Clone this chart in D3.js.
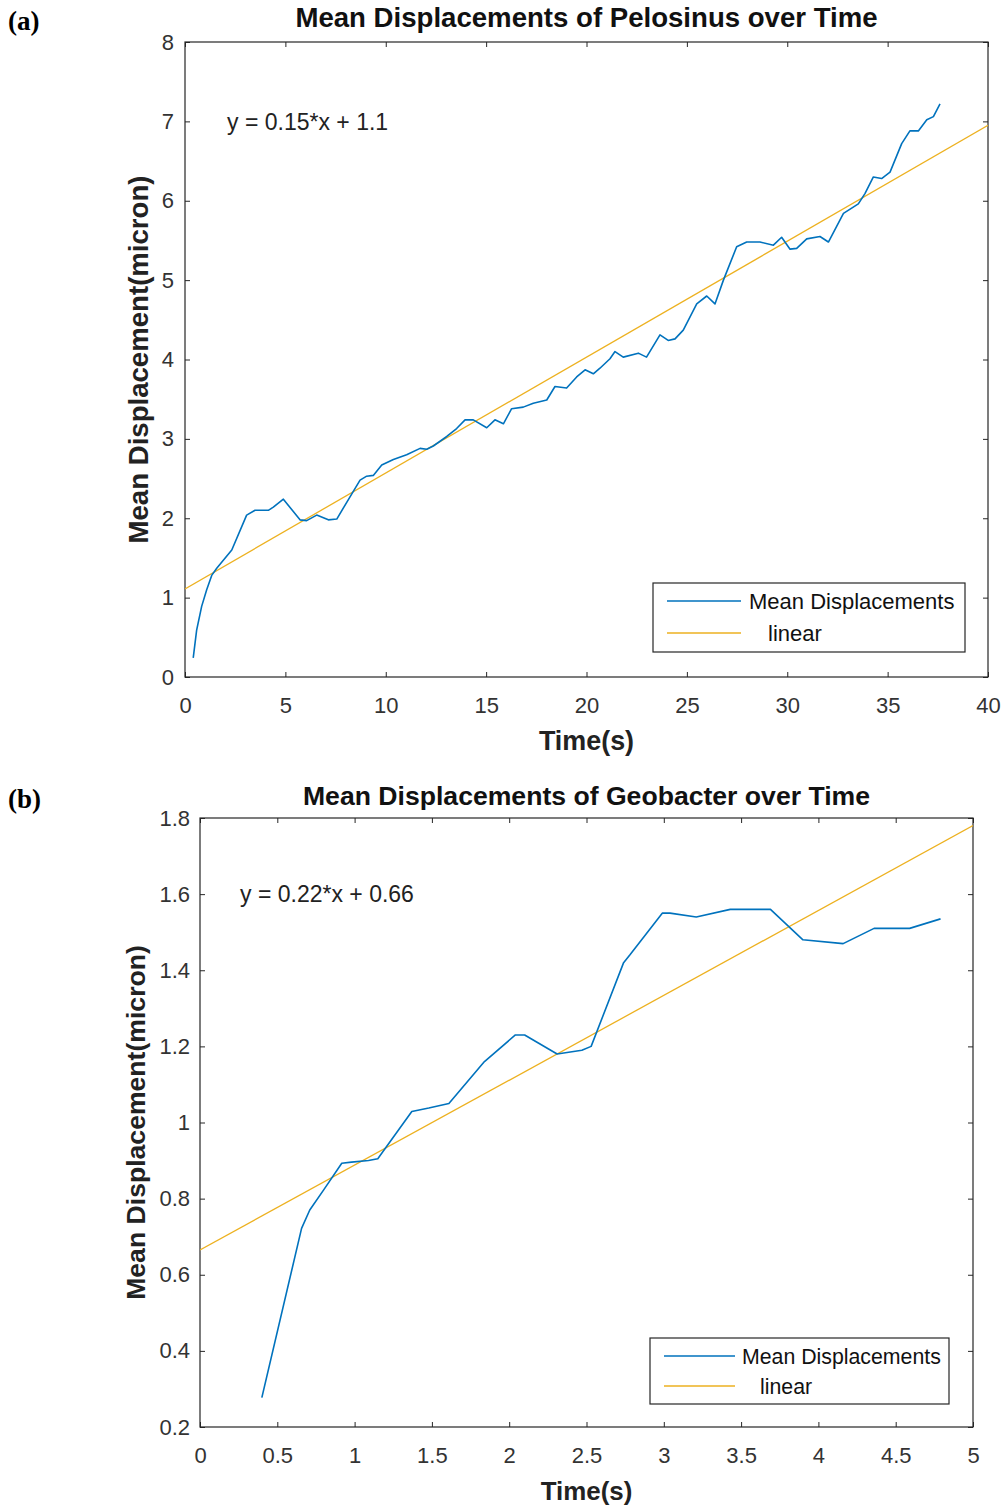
<!DOCTYPE html>
<html>
<head>
<meta charset="utf-8">
<script src="https://d3js.org/d3.v7.min.js"></script>
<style>
	body { margin: 0; background: #fff; }
	svg { display: block; }
	.tick text { font-family: "Liberation Sans", Arial, sans-serif; font-size: 22px; fill: #333; }
	.tick line { stroke: #262626; }
</style>
</head>
<body>
<svg id="svgarea" width="1008" height="1507"></svg>
<script>
// --- data ---
const pelosinusTime	= [0.41, 0.58, 0.83, 1.08, 1.33, 1.58, 2.33, 3.07, 3.49, 4.15, 4.40, 4.90, 5.73, 6.06, 6.56, 7.14, 7.56,
	8.22, 8.72, 9.05, 9.38, 9.80, 10.38, 11.04, 11.71, 12.04, 12.37, 13.04, 13.53, 13.95, 14.36, 15.03, 15.44, 15.86,
	16.27, 16.85, 17.35, 18.02, 18.43, 19.01, 19.51, 19.93, 20.34, 20.67, 21.17, 21.42, 21.83, 22.58, 22.99, 23.66,
	24.07, 24.41, 24.82, 25.49, 25.99, 26.40, 26.82, 27.48, 27.98, 28.64, 29.31, 29.72, 30.14, 30.47, 30.97, 31.63,
	32.05, 32.80, 33.54, 33.87, 34.29, 34.70, 35.12, 35.70, 36.11, 36.53, 36.95, 37.28, 37.61];
const pelosinusDisp	= [0.24, 0.59, 0.89, 1.10, 1.28, 1.37, 1.60, 2.04, 2.10, 2.10, 2.14, 2.24, 1.98, 1.97, 2.04, 1.98, 1.99,
	2.27, 2.48, 2.53, 2.54, 2.67, 2.74, 2.80, 2.88, 2.87, 2.91, 3.03, 3.13, 3.24, 3.24, 3.14, 3.24, 3.19,
	3.38, 3.40, 3.45, 3.49, 3.66, 3.64, 3.78, 3.87, 3.82, 3.89, 4.01, 4.10, 4.03, 4.08, 4.03, 4.31,
	4.24, 4.26, 4.37, 4.70, 4.80, 4.70, 5.00, 5.42, 5.48, 5.48, 5.44, 5.54, 5.39, 5.40, 5.52, 5.55,
	5.48, 5.84, 5.96, 6.09, 6.30, 6.28, 6.36, 6.72, 6.88, 6.88, 7.02, 7.06, 7.22];
const pelosinusFit	= [0.146, 1.11];	// slope, intercept

const geobacterTime	= [0.40, 0.657, 0.71, 0.80, 0.917, 0.98, 1.09, 1.15, 1.37, 1.48, 1.61, 1.84, 2.04, 2.10, 2.31, 2.47, 2.53,
	2.74, 2.78, 2.99, 3.04, 3.21, 3.43, 3.69, 3.90, 4.16, 4.36, 4.59, 4.79];
const geobacterDisp	= [0.277, 0.722, 0.77, 0.823, 0.893, 0.896, 0.90, 0.905, 1.029, 1.038, 1.05, 1.16, 1.23, 1.23, 1.18, 1.19, 1.20,
	1.42, 1.44, 1.55, 1.55, 1.54, 1.56, 1.56, 1.48, 1.47, 1.51, 1.51, 1.535];
const geobacterFit	= [0.223, 0.665];

const xTicksA		= [0, 5, 10, 15, 20, 25, 30, 35, 40];
const yTicksA		= [0, 1, 2, 3, 4, 5, 6, 7, 8];
const xTicksB		= [0, 0.5, 1, 1.5, 2, 2.5, 3, 3.5, 4, 4.5, 5];
const yTicksB		= [0.2, 0.4, 0.6, 0.8, 1, 1.2, 1.4, 1.6, 1.8];

const legendLabels	= ['Mean Displacements', 'linear'];
const blue			= '#0072BD';
const yellow		= '#EDB120';
const axisColor		= '#262626';
const sans			= '"Liberation Sans", Arial, sans-serif';

var svg = d3.select('#svgarea');

/**
 * Draws one panel
 * @param cfg	(object) box, domains, ticks, data and texts
 */
function drawChart(cfg){
	var b = cfg.box;
	var x = d3.scaleLinear().domain(cfg.xDomain).range([b.left, b.right]);
	var y = d3.scaleLinear().domain(cfg.yDomain).range([b.bottom, b.top]);
	var fmt = d3.format('~g');
	var g = svg.append('g');

	// clip for the curves
	var clipId = 'clip-' + cfg.id;
	g.append('clipPath').attr('id', clipId).append('rect')
		.attr('x', b.left).attr('y', b.top).attr('width', b.right - b.left).attr('height', b.bottom - b.top);

	// axes, ticks pointing inward, mirrored on top / right
	g.append('g').attr('transform', 'translate(0,' + b.bottom + ')')
		.call(d3.axisBottom(x).tickValues(cfg.xTicks).tickFormat(fmt).tickSizeInner(-5).tickSizeOuter(0).tickPadding(20));
	g.append('g').attr('transform', 'translate(0,' + b.top + ')')
		.call(d3.axisTop(x).tickValues(cfg.xTicks).tickFormat('').tickSizeInner(-5).tickSizeOuter(0));
	g.append('g').attr('transform', 'translate(' + b.left + ',0)')
		.call(d3.axisLeft(y).tickValues(cfg.yTicks).tickFormat(fmt).tickSizeInner(-5).tickSizeOuter(0).tickPadding(cfg.yPad));
	g.append('g').attr('transform', 'translate(' + b.right + ',0)')
		.call(d3.axisRight(y).tickValues(cfg.yTicks).tickFormat('').tickSizeInner(-5).tickSizeOuter(0));
	g.selectAll('.domain').remove();
	g.append('rect').attr('x', b.left).attr('y', b.top).attr('width', b.right - b.left).attr('height', b.bottom - b.top)
		.attr('fill', 'none').attr('stroke', axisColor).attr('stroke-width', 1.2);

	// fitted line
	var fitPts = cfg.xDomain.map(function(t){ return [t, cfg.fit[0] * t + cfg.fit[1]]; });
	g.append('path').datum(fitPts)
		.attr('d', d3.line().x(function(d){ return x(d[0]); }).y(function(d){ return y(d[1]); }))
		.attr('fill', 'none').attr('stroke', yellow).attr('stroke-width', 1.3)
		.attr('clip-path', 'url(#' + clipId + ')');

	// measured curve
	var pts = d3.zip(cfg.time, cfg.disp);
	g.append('path').datum(pts)
		.attr('d', d3.line().x(function(d){ return x(d[0]); }).y(function(d){ return y(d[1]); }))
		.attr('fill', 'none').attr('stroke', blue).attr('stroke-width', 1.6).attr('stroke-linejoin', 'round')
		.attr('clip-path', 'url(#' + clipId + ')');

	// texts
	g.append('text').attr('x', (b.left + b.right) / 2).attr('y', cfg.titleY)
		.attr('text-anchor', 'middle').attr('font-family', sans).attr('font-weight', 'bold').attr('font-size', cfg.bold)
		.attr('fill', '#111').text(cfg.title);
	g.append('text').attr('x', (b.left + b.right) / 2).attr('y', b.bottom + 73)
		.attr('text-anchor', 'middle').attr('font-family', sans).attr('font-weight', 'bold').attr('font-size', cfg.bold - 0.7)
		.attr('fill', '#222').text('Time(s)');
	g.append('text').attr('transform', 'translate(' + cfg.yLabelX + ',' + (b.top + b.bottom) / 2 + ') rotate(-90)')
		.attr('text-anchor', 'middle').attr('font-family', sans).attr('font-weight', 'bold').attr('font-size', cfg.bold)
		.attr('fill', '#222').text('Mean Displacement(micron)');
	g.append('text').attr('x', cfg.eq[0]).attr('y', cfg.eq[1])
		.attr('font-family', sans).attr('font-size', 23).attr('fill', '#222').text(cfg.eqText);
	g.append('text').attr('x', 8).attr('y', cfg.titleY + 3)
		.attr('font-family', '"Liberation Serif", "Times New Roman", serif').attr('font-weight', 'bold').attr('font-size', 27)
		.attr('fill', '#000').text(cfg.panel);

	// legend, anchored south-east
	var L = cfg.legend;
	var lx = b.right - L.right - L.width, ly = b.bottom - L.bottom - L.height;
	var lg = g.append('g').attr('transform', 'translate(' + lx + ',' + ly + ')');
	lg.append('rect').attr('width', L.width).attr('height', L.height)
		.attr('fill', '#fff').attr('stroke', axisColor).attr('stroke-width', 1.2);
	[blue, yellow].forEach(function(c, i){
		var ry = L.rows[i];
		lg.append('line').attr('x1', 14).attr('x2', 14 + L.lineLen).attr('y1', ry).attr('y2', ry)
			.attr('stroke', c).attr('stroke-width', i ? 1.3 : 1.6);
		lg.append('text').attr('x', L.textX[i]).attr('y', ry + 8)
			.attr('font-family', sans).attr('font-size', L.font).attr('fill', '#111').text(legendLabels[i]);
	});
}

drawChart({
	id: 'a', panel: '(a)', bold: 27.6,
	box: {left: 185, right: 988, top: 42, bottom: 677},
	xDomain: [0, 40], yDomain: [0, 8], xTicks: xTicksA, yTicks: yTicksA, yPad: 11,
	time: pelosinusTime, disp: pelosinusDisp, fit: pelosinusFit,
	title: 'Mean Displacements of Pelosinus over Time', titleY: 27,
	yLabelX: 148, eq: [227, 130], eqText: 'y = 0.15*x + 1.1',
	legend: {width: 312, height: 69, right: 23, bottom: 25, rows: [18, 50], lineLen: 74, textX: [96, 115], font: 22}
});

drawChart({
	id: 'b', panel: '(b)', bold: 26.6,
	box: {left: 200, right: 973, top: 818, bottom: 1427},
	xDomain: [0, 5], yDomain: [0.2, 1.8], xTicks: xTicksB, yTicks: yTicksB, yPad: 10,
	time: geobacterTime, disp: geobacterDisp, fit: geobacterFit,
	title: 'Mean Displacements of Geobacter over Time', titleY: 805,
	yLabelX: 145, eq: [240, 902], eqText: 'y = 0.22*x + 0.66',
	legend: {width: 299, height: 66, right: 24, bottom: 23, rows: [18, 48], lineLen: 71, textX: [92, 110], font: 21.3}
});
</script>
</body>
</html>
